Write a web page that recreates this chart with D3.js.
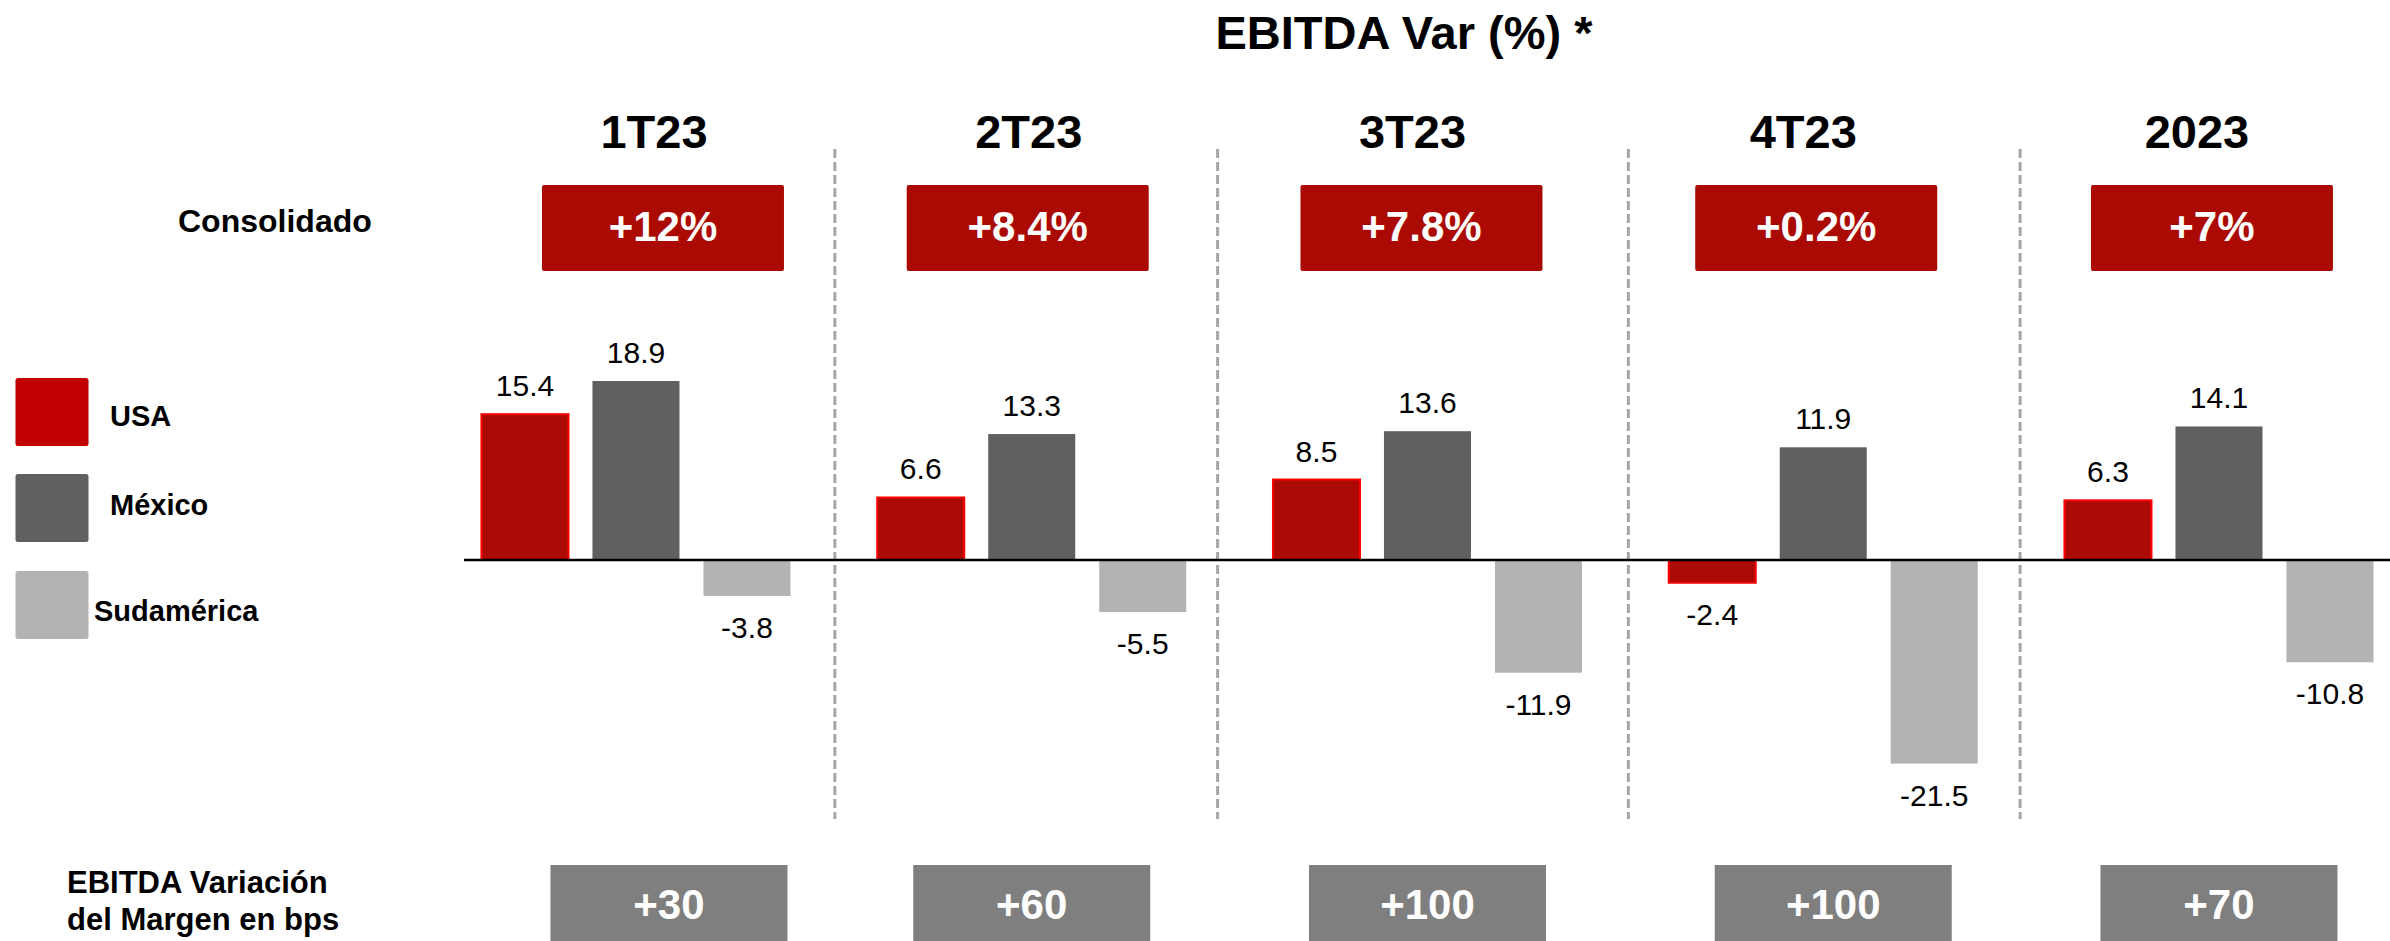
<!DOCTYPE html>
<html>
<head>
<meta charset="utf-8">
<script src="https://cdn.jsdelivr.net/npm/d3@7"></script>
<style>
  html, body { margin: 0; padding: 0; background: #fff; }
  svg { display: block; font-family: "Liberation Sans", Arial, sans-serif; }
</style>
</head>
<body>
<svg id="chart" width="2390" height="941"></svg>
<script>
// ---------- DATA ----------
const periods = ["1T23", "2T23", "3T23", "4T23", "2023"];
const series = ["USA", "México", "Sudamérica"];
const usa = [15.4, 6.6, 8.5, -2.4, 6.3];
const mexico = [18.9, 13.3, 13.6, 11.9, 14.1];
const sudamerica = [-3.8, -5.5, -11.9, -21.5, -10.8];
const consolidado = ["+12%", "+8.4%", "+7.8%", "+0.2%", "+7%"];
const margenBps = ["+30", "+60", "+100", "+100", "+70"];

// ---------- LAYOUT / STYLE ----------
const W = 2390, H = 941;
const colors = { "USA": "#ac0a04", "México": "#606060", "Sudamérica": "#b3b3b3" };
const legendColors = { "USA": "#c00000", "México": "#606060", "Sudamérica": "#b3b3b3" };
// small per-column horizontal nudges (layout only)
const headerNudge = [18, -3, -15, -20, -22];
const consNudge = [27, -4, -6, -7, -7];
const bpsNudge = [33, 0, 0, 10, 0];
const sepNudge = [1, -12, 3, -1];

const svg = d3.select("#chart");
const fmt = d3.formatLocale({ decimal: ".", thousands: ",", grouping: [3], currency: ["", ""], minus: "-" }).format(".1f");

const values = { "USA": usa, "México": mexico, "Sudamérica": sudamerica };
const rows = periods.map((p, i) => ({ period: p, i, vals: series.map(s => ({ key: s, value: values[s][i] })) }));

const step = 395.75;
const x0 = d3.scaleBand().domain(periods).range([438.1, 438.1 + step * periods.length]).padding(0);
const x1 = d3.scaleBand().domain(series)
  .range([(step - 333) / 2, (step + 333) / 2]).paddingInner(0.216).paddingOuter(0.108);
const ppu = 9.47, zeroY = 560;
const y = d3.scaleLinear().domain([-25, 25]).range([zeroY + 25 * ppu, zeroY - 25 * ppu]);

const center = (p) => x0(p) + x0.bandwidth() / 2;

// Title
svg.append("text").attr("x", 1404).attr("y", 49).attr("text-anchor", "middle")
  .attr("font-size", 47).attr("font-weight", "bold").attr("fill", "#000")
  .text("EBITDA Var (%) *");

// Dashed separators
periods.slice(1).forEach((p, i) => {
  const xx = x0(p) + sepNudge[i];
  svg.append("line").attr("x1", xx).attr("x2", xx).attr("y1", 149).attr("y2", 819)
    .attr("stroke", "#a6a6a6").attr("stroke-width", 3).attr("stroke-dasharray", "9,4");
});

// Period headers
svg.selectAll(".hdr").data(periods).enter().append("text")
  .attr("x", (d, i) => center(d) + headerNudge[i]).attr("y", 148)
  .attr("text-anchor", "middle").attr("font-size", 47).attr("font-weight", "bold")
  .text(d => d);

// Consolidado label
svg.append("text").attr("x", 178).attr("y", 232).attr("font-size", 32).attr("font-weight", "bold")
  .text("Consolidado");

// Consolidado boxes
const cons = svg.selectAll(".cons").data(periods).enter().append("g");
cons.append("rect")
  .attr("x", (d, i) => center(d) + consNudge[i] - 121).attr("y", 185)
  .attr("width", 242).attr("height", 86).attr("rx", 2).attr("fill", "#ab0a03");
cons.append("text")
  .attr("x", (d, i) => center(d) + consNudge[i]).attr("y", 241)
  .attr("text-anchor", "middle").attr("font-size", 42).attr("font-weight", "bold").attr("fill", "#fff")
  .text((d, i) => consolidado[i]);

// Legend
series.forEach((s, i) => {
  const ly = [378, 474, 571][i];
  svg.append("rect").attr("x", 15.5).attr("y", ly).attr("width", 73).attr("height", 68)
    .attr("rx", 2.5).attr("fill", legendColors[s]);
});
svg.append("text").attr("x", 110).attr("y", 426).attr("font-size", 29).attr("font-weight", "bold").text("USA");
svg.append("text").attr("x", 110).attr("y", 515).attr("font-size", 29).attr("font-weight", "bold").text("México");
svg.append("text").attr("x", 94).attr("y", 621).attr("font-size", 29).attr("font-weight", "bold").text("Sudamérica");

// Bars
const groups = svg.selectAll(".grp").data(rows).enter().append("g")
  .attr("transform", d => `translate(${x0(d.period)},0)`);
groups.selectAll("rect").data(d => d.vals).enter().append("rect")
  .attr("x", d => x1(d.key)).attr("width", x1.bandwidth())
  .attr("y", d => y(Math.max(0, d.value)))
  .attr("height", d => Math.abs(y(d.value) - y(0)))
  .attr("fill", d => colors[d.key])
  .attr("stroke", d => d.key === "USA" ? "#ff0000" : "none")
  .attr("stroke-width", 2);
groups.selectAll("text").data(d => d.vals).enter().append("text")
  .attr("x", d => x1(d.key) + x1.bandwidth() / 2)
  .attr("y", d => d.value >= 0 ? y(d.value) - 18 : y(d.value) + 42)
  .attr("text-anchor", "middle").attr("font-size", 30).attr("fill", "#000")
  .text(d => fmt(d.value));

// Zero line
svg.append("line").attr("x1", 464).attr("x2", W).attr("y1", y(0)).attr("y2", y(0))
  .attr("stroke", "#000").attr("stroke-width", 2.5);

// Bottom label
const bl = svg.append("text").attr("font-size", 31).attr("font-weight", "bold");
bl.append("tspan").attr("x", 67).attr("y", 893).text("EBITDA Variación");
bl.append("tspan").attr("x", 67).attr("y", 930).text("del Margen en bps");

// Bottom boxes
const bps = svg.selectAll(".bps").data(periods).enter().append("g");
bps.append("rect")
  .attr("x", (d, i) => center(d) + bpsNudge[i] - 118.5).attr("y", 865)
  .attr("width", 237).attr("height", 90).attr("fill", "#7f7f7f");
bps.append("text")
  .attr("x", (d, i) => center(d) + bpsNudge[i]).attr("y", 919)
  .attr("text-anchor", "middle").attr("font-size", 42).attr("font-weight", "bold").attr("fill", "#fff")
  .text((d, i) => margenBps[i]);
</script>
</body>
</html>
